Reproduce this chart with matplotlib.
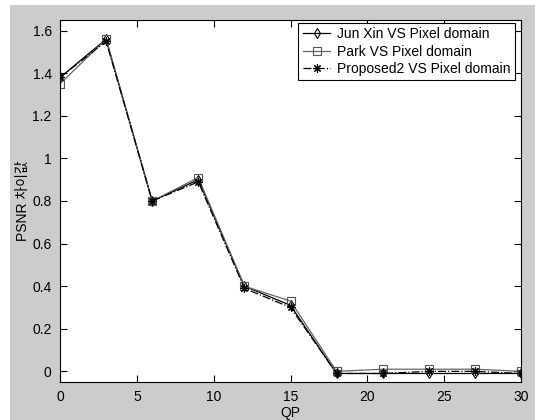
import matplotlib.pyplot as plt
from matplotlib.patches import Rectangle

# data
qp = [0, 3, 6, 9, 12, 15, 18, 21, 24, 27, 30]
junxin = [1.38, 1.56, 0.80, 0.90, 0.40, 0.31, -0.01, -0.01, -0.01, -0.01, -0.01]
park = [1.35, 1.56, 0.80, 0.91, 0.40, 0.33, 0.00, 0.01, 0.01, 0.01, 0.00]
proposed2 = [1.38, 1.55, 0.80, 0.89, 0.39, 0.30, -0.01, -0.01, 0.00, 0.00, -0.01]

yticks = [0, 0.2, 0.4, 0.6, 0.8, 1.0, 1.2, 1.4, 1.6]
ytick_labels = ["0", "0.2", "0.4", "0.6", "0.8", "1", "1.2", "1.4", "1.6"]
xticks = [0, 5, 10, 15, 20, 25, 30]

plt.rcParams["font.family"] = ["Liberation Sans", "Noto Sans CJK KR", "DejaVu Sans"]

fig = plt.figure(figsize=(5.35, 4.2), dpi=100, facecolor="#cccccc")
# thin white strip on the left and top edges of the screenshot
fig.patches.append(Rectangle((0, 0), 10 / 535, 1, transform=fig.transFigure,
                             facecolor="white", edgecolor="none", zorder=-1))
fig.patches.append(Rectangle((0, 1 - 5 / 420), 1, 5 / 420, transform=fig.transFigure,
                             facecolor="white", edgecolor="none", zorder=-1))

ax = fig.add_axes([60 / 535, 1 - 382 / 420, 461 / 535, 362 / 420])

ax.plot(qp, junxin, color="black", lw=0.9, marker="d", ms=5,
        mfc="none", mec="black", mew=0.8, label="Jun Xin VS Pixel domain")
ax.plot(qp, park, color="#666666", lw=0.9, marker="s", ms=6,
        mfc="none", mec="#555555", mew=0.8, label="Park VS Pixel domain")
ax.plot(qp, proposed2, color="black", lw=0.9, ls="-.", marker=(8, 2, 0), ms=6,
        mfc="black", mec="black", mew=0.8, label="Proposed2 VS Pixel domain")

ax.set_xlim(0, 30)
ax.set_ylim(-0.05, 1.65)
ax.set_xticks(xticks)
ax.set_yticks(yticks)
ax.set_yticklabels(ytick_labels)
ax.tick_params(direction="in", top=True, right=True, labelsize=10, length=5,
               width=0.8, colors="black", pad=6)
for s in ax.spines.values():
    s.set_linewidth(0.8)

ax.set_xlabel("QP", fontsize=10, labelpad=1)
ax.set_ylabel("PSNR 차이값", fontsize=10, labelpad=2)

leg = ax.legend(loc="upper right", fontsize=10, fancybox=False, framealpha=1,
                edgecolor="black", bbox_to_anchor=(1 - 6 / 461, 1 - 3 / 362),
                borderaxespad=0, handlelength=2.0, handletextpad=0.5,
                labelspacing=0.25, borderpad=0.3)
leg.get_frame().set_linewidth(0.8)

fig.savefig("out.png", dpi=100, facecolor=fig.get_facecolor())
